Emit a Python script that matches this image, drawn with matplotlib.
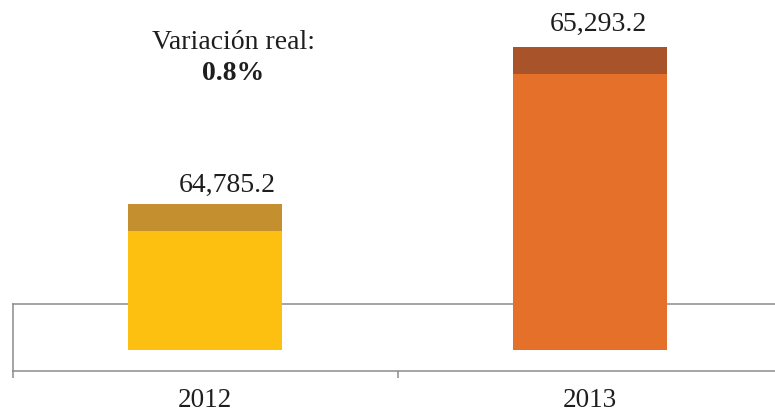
import matplotlib
matplotlib.use("Agg")
import matplotlib.pyplot as plt

# ---- data ----
years = ["2012", "2013"]
values = [64785.2, 65293.2]
value_labels = ["64,785.2", "65,293.2"]
variation_title = "Variación real:"
variation_value = "0.8%"

# ---- style ----
main_colors = ["#FDC010", "#E5702A"]
cap_colors = ["#C4902F", "#A9532A"]
base = 64312.8          # truncated axis baseline (bar bottoms)
cap_depth = 86.0        # darker top band of each bar
ymin, ymax = 64244.9, 65445.3
line_color = "#8C8C8C"
text_color = "#1E1E1E"
font = "Liberation Serif"

fig = plt.figure(figsize=(7.75, 4.15), dpi=100)
W, H = 775, 415
ax = fig.add_axes([12.5 / W, 44 / H, 770 / W, 371 / H])
ax.set_xlim(-0.5, 1.5)
ax.set_ylim(ymin, ymax)
ax.patch.set_alpha(0)

x = list(range(len(years)))
heights = [v - base for v in values]
ax.bar(x, heights, bottom=base, width=0.4, color=main_colors, zorder=3)
ax.bar(x, [cap_depth] * len(x), bottom=[v - cap_depth for v in values],
       width=0.4, color=cap_colors, zorder=4)

# box of broken axis
box_top = 0.1806
ax.plot([0, 1], [box_top, box_top], transform=ax.transAxes, color=line_color,
        lw=1.1, zorder=2, clip_on=False)
ax.plot([0, 0], [0, box_top], transform=ax.transAxes, color=line_color,
        lw=1.1, zorder=2, clip_on=False)

for s in ["top", "right", "left"]:
    ax.spines[s].set_visible(False)
ax.spines["bottom"].set_color(line_color)
ax.spines["bottom"].set_linewidth(1.1)
ax.set_yticks([])
ax.set_xticks(x)
ax.set_xticklabels(years, fontsize=19.5, family=font, color=text_color)
ax.tick_params(axis="x", which="major", length=0, pad=12)
ax.set_xticks([-0.5, 0.5, 1.5], minor=True)
ax.tick_params(axis="x", which="minor", length=5, width=1.1, color=line_color,
               direction="out")

# value labels
label_dx = [22, 8]
label_dy = [12, 16]
for i, (v, lab) in enumerate(zip(values, value_labels)):
    ax.annotate(lab, (i, v), xytext=(label_dx[i], label_dy[i]),
                textcoords="offset pixels", ha="center", va="baseline",
                fontsize=20, family=font, color=text_color)

fig.text(233 / W, 1 - 49 / H, variation_title, ha="center", va="baseline",
         fontsize=20, family=font, color=text_color)
fig.text(233 / W, 1 - 80 / H, variation_value, ha="center", va="baseline",
         fontsize=20, family=font, fontweight="bold", color=text_color)

fig.savefig("out.png", dpi=100)
